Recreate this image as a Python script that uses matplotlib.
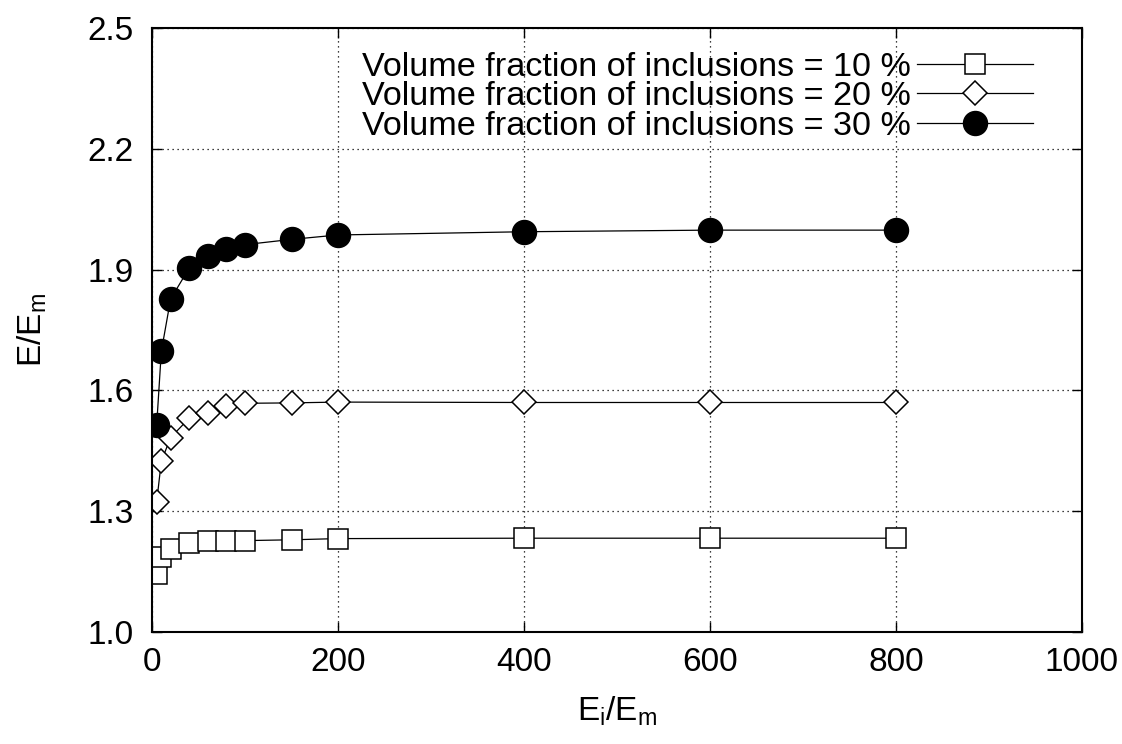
import matplotlib
matplotlib.use("Agg")
import matplotlib.pyplot as plt

plt.rcParams['font.family'] = ['Liberation Sans', 'DejaVu Sans']
plt.rcParams['mathtext.fontset'] = 'custom'
plt.rcParams['mathtext.rm'] = 'Liberation Sans'

# Ei/Em ratio
x = [5, 10, 20, 40, 60, 80, 100, 150, 200, 400, 600, 800]
# E/Em for each volume fraction
y10 = [1.145, 1.186, 1.207, 1.220, 1.225, 1.226, 1.227, 1.229, 1.232, 1.233, 1.233, 1.233]
y20 = [1.323, 1.424, 1.483, 1.531, 1.545, 1.561, 1.568, 1.569, 1.571, 1.570, 1.570, 1.570]
y30 = [1.514, 1.697, 1.827, 1.904, 1.935, 1.950, 1.962, 1.975, 1.986, 1.994, 1.998, 1.998]

labels = ["Volume fraction of inclusions = 10 %",
          "Volume fraction of inclusions = 20 %",
          "Volume fraction of inclusions = 30 %"]

fig = plt.figure(figsize=(11.22, 7.44), dpi=100)
ax = fig.add_axes([0.1355, 0.1505, 0.8288, 0.8119])

ax.plot(x, y10, color="black", lw=0.9, marker="s", ms=13.8, mfc="white",
        mec="black", mew=1.1, label=labels[0])
ax.plot(x, y20, color="black", lw=0.9, marker="D", ms=12.5, mfc="white",
        mec="black", mew=1.1, label=labels[1])
ax.plot(x, y30, color="black", lw=0.9, marker="o", ms=17.3, mfc="black",
        mec="black", label=labels[2])

ax.set_xlim(0, 1000)
ax.set_ylim(1.0, 2.5)
ax.set_xticks([0, 200, 400, 600, 800, 1000])
ax.set_yticks([1.0, 1.3, 1.6, 1.9, 2.2, 2.5])
ax.set_yticklabels(["1.0", "1.3", "1.6", "1.9", "2.2", "2.5"])
ax.grid(True, linestyle=(0, (1, 3)), color="black", lw=0.9)
ax.tick_params(direction="in", length=7, width=1, top=True, right=True,
               labelsize=24)
ax.tick_params(axis="y", pad=13)
ax.tick_params(axis="x", pad=11)
for s in ax.spines.values():
    s.set_linewidth(1.5)

ax.set_xlabel(r"$\mathregular{E_i/E_m}$", fontsize=24, labelpad=12)
ax.set_ylabel(r"$\mathregular{E/E_m}$", fontsize=24, labelpad=28)

ax.legend(loc="upper right", frameon=False, markerfirst=False, fontsize=24.6,
          handlelength=3.4, handletextpad=0.2, labelspacing=-0.045,
          borderaxespad=0.0, bbox_to_anchor=(0.9625, 0.983))

fig.savefig("out.png", dpi=100)
